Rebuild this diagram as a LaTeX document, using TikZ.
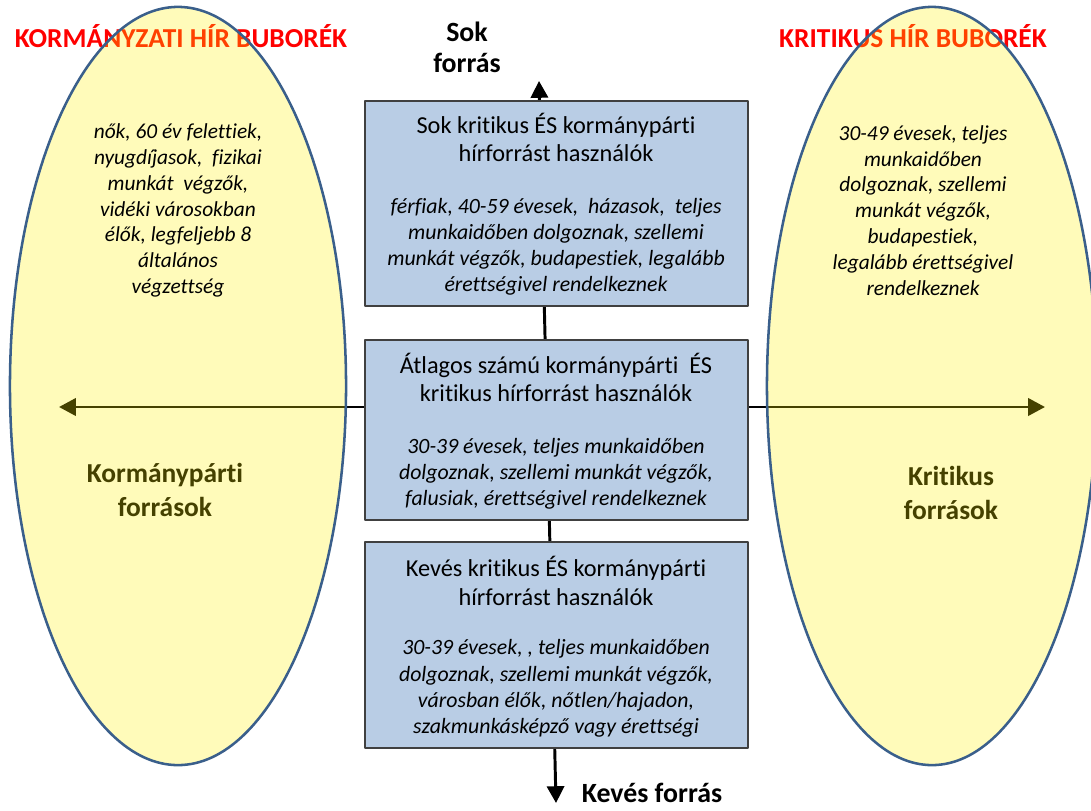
\documentclass[tikz,border=0pt]{standalone}
\usepackage{fontspec}
\setmainfont{Carlito}[Ligatures=NoCommon]
\usetikzlibrary{arrows.meta,positioning}
\definecolor{boxblue}{HTML}{B9CDE5}
\definecolor{rimblue}{HTML}{3A5F8B}
\definecolor{headred}{HTML}{FF0000}
\tikzset{
  groupbox/.style={draw=black!75,line width=1pt,fill=boxblue,minimum width=9.575cm},
  bubble/.style={draw=rimblue,line width=1.8pt,fill=yellow,fill opacity=0.27,draw opacity=1},
  headline/.style={align=center,font=\fontsize{17.3}{20.3}\selectfont},
  detail/.style={align=center,font=\fontsize{15.5}{18.6}\selectfont\itshape},
  bubtext/.style={align=center,font=\fontsize{15.2}{18.4}\selectfont\itshape},
  bubtitle/.style={text=headred,font=\fontsize{19.5}{22}\selectfont\bfseries},
  axislabel/.style={align=center,font=\fontsize{19.8}{22}\selectfont\bfseries},
  sidelabel/.style={align=center,font=\fontsize{19.5}{24}\selectfont\bfseries},
  axis/.style={line width=2.1pt,{Triangle[length=0.42cm,width=0.43cm]}-{Triangle[length=0.42cm,width=0.43cm]}}
}
\begin{document}
\begin{tikzpicture}[x=0.025cm,y=-0.025cm,line join=round]
\useasboundingbox (0,0) rectangle (1091,810);

% titles and side labels, under the bubbles
\node[bubtitle] (govtitle) at (181,36) {KORMÁNYZATI HÍR BUBORÉK};
\node[bubtitle] (crittitle) at (913,36) {KRITIKUS HÍR BUBORÉK};
\node[sidelabel] (govside) at (165,490) {Kormánypárti\\források};
\node[sidelabel] (critside) at (951,493) {Kritikus\\források};

% horizontal axis
\coordinate (west) at (59,407);
\coordinate (east) at (1045,407);
\draw[axis] (west) -- (east);

% bubbles
\draw[bubble] (178,386) ellipse [x radius=4.2cm,y radius=9.475cm];
\draw[bubble] (932,386) ellipse [x radius=4.125cm,y radius=9.475cm];

% vertical axis
\coordinate (up) at (539,81);
\coordinate (down) at (556,803);
\draw[axis] (down) -- (up);

% boxes
\node[groupbox,minimum height=5.125cm] (many) at (556.5,203.5) {};
\node[groupbox,minimum height=4.5cm] (avg) at (556.5,430) {};
\node[groupbox,minimum height=5.15cm] (few) at (556.5,645) {};

\node[headline] (manyhead) at (556,137.5) {Sok kritikus ÉS kormánypárti\\hírforrást használók};
\node[detail] (manytext) at (556,247) {férfiak, 40-59 évesek,\ \ házasok,\ \ teljes\\munkaidőben dolgoznak, szellemi\\munkát végzők, budapestiek, legalább\\érettségivel rendelkeznek};
\node[headline] (avghead) at (556,377.5) {Átlagos számú kormánypárti\ \ ÉS\\kritikus hírforrást használók};
\node[detail] (avgtext) at (556,474) {30-39 évesek, teljes munkaidőben\\dolgoznak, szellemi munkát végzők,\\falusiak, érettségivel rendelkeznek};
\node[headline] (fewhead) at (556,581) {Kevés kritikus ÉS kormánypárti\\hírforrást használók};
\node[detail] (fewtext) at (556,688.5) {30-39 évesek, , teljes munkaidőben\\dolgoznak, szellemi munkát végzők,\\városban élők, nőtlen/hajadon,\\szakmunkásképző vagy érettségi};

% bubble texts
\node[bubtext] (govtext) at (178,210.5) {nők, 60 év felettiek,\\nyugdíjasok,\ \ fizikai\\munkát\ \ végzők,\\vidéki városokban\\élők, legfeljebb 8\\általános\\végzettség};
\node[bubtext] (crittext) at (923,210.5) {30-49 évesek, teljes\\munkaidőben\\dolgoznak, szellemi\\munkát végzők,\\budapestiek,\\legalább érettségivel\\rendelkeznek};

% axis ends
\node[axislabel] (manysrc) at (467,47.5) {Sok\\forrás};
\node[axislabel] (fewsrc) at (652,793) {Kevés forrás};
\end{tikzpicture}
\end{document}
